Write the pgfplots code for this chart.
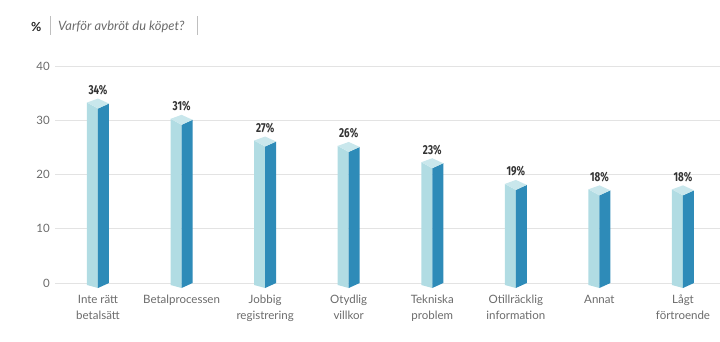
\documentclass[border=0pt]{standalone}
\usepackage{pgfplots}
\pgfplotsset{compat=1.18}
\usepackage{pgfplotstable}
\usepackage{fontspec}
\setmainfont{Lato}
\newfontfamily\valfont[FakeStretch=0.76]{Fira Sans}
\definecolor{lightface}{HTML}{B1DCE3}
\definecolor{topface}{HTML}{C9E7EC}
\definecolor{darkface}{HTML}{2E8BB8}
\definecolor{gridc}{HTML}{E3E3E3}
\definecolor{txt}{HTML}{6B6B6B}
\definecolor{valc}{HTML}{333333}

\pgfplotstableread{
x v
0 34
1 31
2 27
3 26
4 23
5 19
6 18
7 18
}\datatable

\begin{document}
\begin{tikzpicture}
\path[use as bounding box] (0pt,0pt) rectangle (720pt,342pt);
\begin{axis}[
  at={(55pt,59pt)}, anchor=south west,
  scale only axis, width=665pt, height=217pt,
  xmin=-0.5145, xmax=7.443, ymin=0, ymax=40,
  clip=false,
  axis line style={draw=none},
  ytick={0,10,20,30,40},
  ymajorgrids, grid style={gridc, line width=0.9pt},
  major tick length=0pt,
  yticklabel style={font=\fontsize{11.5}{12}\selectfont, text=txt, anchor=east, xshift=-5pt, inner sep=0pt},
  /pgf/number format/assume math mode=true,
  xtick={0,...,7},
  xticklabels={{Inte rätt\\betalsätt},{Betalprocessen},{Jobbig\\registrering},{Otydlig\\villkor},{Tekniska\\problem},{Otillräcklig\\information},{Annat},{Lågt\\förtroende}},
  xticklabel style={font=\fontsize{11.5}{16}\selectfont, text=txt, align=center, anchor=north, inner sep=0pt, yshift=-12pt},
]
% prism faces: x offset 11px = 0.1316 units; 1 unit = 5.425px
\pgfplotsforeachungrouped \i/\v in {0/34,1/31,2/27,3/26,4/23,5/19,6/18,7/18}{%
  \pgfmathsetmacro\xl{\i-0.1316}%
  \pgfmathsetmacro\xr{\i+0.1316}%
  \pgfmathsetmacro\yl{\v-0.737}%
  \pgfmathsetmacro\yj{\v-1.843}%
  \pgfmathsetmacro\yr{\v-0.922}%
  \edef\temp{%
    \noexpand\addplot[fill=lightface, draw=none, forget plot] coordinates {(\xl,-0.369) (\i,-0.922) (\i,\yj) (\xl,\yl)};
    \noexpand\addplot[fill=darkface, draw=none, forget plot] coordinates {(\i,-0.922) (\xr,0) (\xr,\yr) (\i,\yj)};
    \noexpand\addplot[fill=topface, draw=none, forget plot] coordinates {(\xl,\yl) (\i,\yj) (\xr,\yr) (\i,\v)};
  }%
  \temp
}
\addplot[draw=none, mark=none,
  point meta=\thisrow{v},
  nodes near coords={\valfont\bfseries\pgfmathprintnumber{\pgfplotspointmeta}\%},
  nodes near coords style={anchor=base, inner sep=0pt, yshift=4pt, font=\fontsize{13}{13}\selectfont, text=valc},
] table[x=x, y=v] {\datatable};
\end{axis}
\node[anchor=west, inner sep=0pt, font=\bfseries\fontsize{12.5}{13}\selectfont, text=black!85] at (31pt,315pt) {\%};
\draw[black!25, line width=0.8pt] (50pt,307pt) -- (50pt,326pt);
\node[anchor=west, inner sep=0pt, font=\itshape\fontsize{12.9}{13}\selectfont, text=txt] at (58pt,315pt) {Varför avbröt du köpet?};
\draw[black!25, line width=0.8pt] (197pt,307pt) -- (197pt,326pt);
\end{tikzpicture}
\end{document}
